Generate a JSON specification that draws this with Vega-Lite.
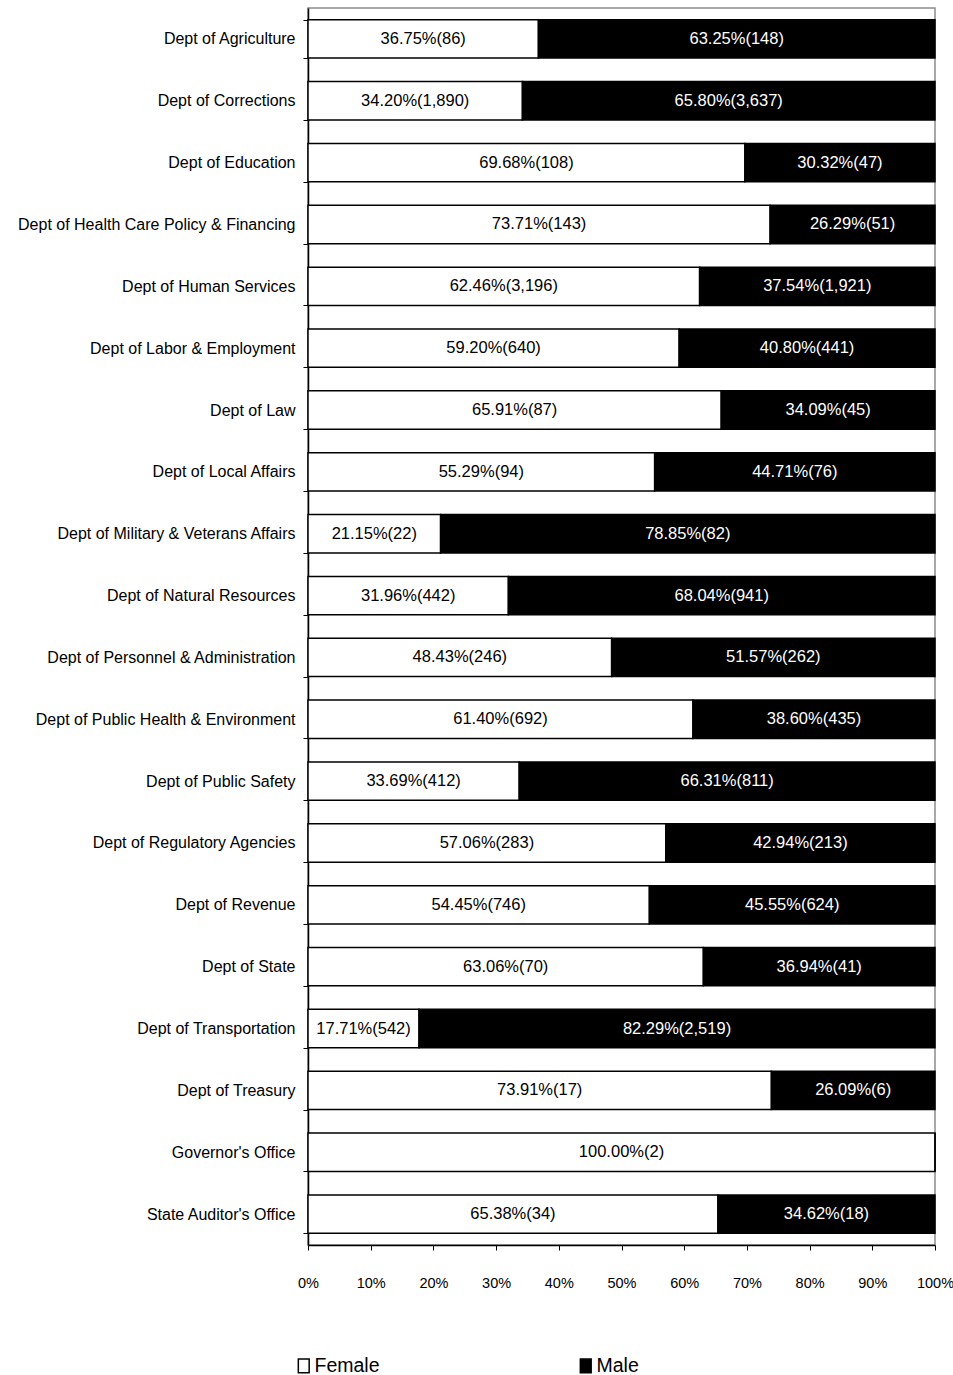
{
  "$schema": "https://vega.github.io/schema/vega-lite/v6.json",
  "width": 627,
  "height": 1237,
  "padding": {"left": 17, "top": 0, "right": 19, "bottom": 0},
  "autosize": {"type": "pad"},
  "background": "white",
  "config": {
    "font": "Liberation Sans",
    "view": {"stroke": "#8c8c8c", "strokeWidth": 1.5}
  },
  "data": {
    "values": [
      {"dept": "Dept of Agriculture", "gender": "Female", "pct": 36.75, "label": "36.75%(86)"},
      {"dept": "Dept of Agriculture", "gender": "Male", "pct": 63.25, "label": "63.25%(148)"},
      {"dept": "Dept of Corrections", "gender": "Female", "pct": 34.20, "label": "34.20%(1,890)"},
      {"dept": "Dept of Corrections", "gender": "Male", "pct": 65.80, "label": "65.80%(3,637)"},
      {"dept": "Dept of Education", "gender": "Female", "pct": 69.68, "label": "69.68%(108)"},
      {"dept": "Dept of Education", "gender": "Male", "pct": 30.32, "label": "30.32%(47)"},
      {"dept": "Dept of Health Care Policy & Financing", "gender": "Female", "pct": 73.71, "label": "73.71%(143)"},
      {"dept": "Dept of Health Care Policy & Financing", "gender": "Male", "pct": 26.29, "label": "26.29%(51)"},
      {"dept": "Dept of Human Services", "gender": "Female", "pct": 62.46, "label": "62.46%(3,196)"},
      {"dept": "Dept of Human Services", "gender": "Male", "pct": 37.54, "label": "37.54%(1,921)"},
      {"dept": "Dept of Labor & Employment", "gender": "Female", "pct": 59.20, "label": "59.20%(640)"},
      {"dept": "Dept of Labor & Employment", "gender": "Male", "pct": 40.80, "label": "40.80%(441)"},
      {"dept": "Dept of Law", "gender": "Female", "pct": 65.91, "label": "65.91%(87)"},
      {"dept": "Dept of Law", "gender": "Male", "pct": 34.09, "label": "34.09%(45)"},
      {"dept": "Dept of Local Affairs", "gender": "Female", "pct": 55.29, "label": "55.29%(94)"},
      {"dept": "Dept of Local Affairs", "gender": "Male", "pct": 44.71, "label": "44.71%(76)"},
      {"dept": "Dept of Military & Veterans Affairs", "gender": "Female", "pct": 21.15, "label": "21.15%(22)"},
      {"dept": "Dept of Military & Veterans Affairs", "gender": "Male", "pct": 78.85, "label": "78.85%(82)"},
      {"dept": "Dept of Natural Resources", "gender": "Female", "pct": 31.96, "label": "31.96%(442)"},
      {"dept": "Dept of Natural Resources", "gender": "Male", "pct": 68.04, "label": "68.04%(941)"},
      {"dept": "Dept of Personnel & Administration", "gender": "Female", "pct": 48.43, "label": "48.43%(246)"},
      {"dept": "Dept of Personnel & Administration", "gender": "Male", "pct": 51.57, "label": "51.57%(262)"},
      {"dept": "Dept of Public Health & Environment", "gender": "Female", "pct": 61.40, "label": "61.40%(692)"},
      {"dept": "Dept of Public Health & Environment", "gender": "Male", "pct": 38.60, "label": "38.60%(435)"},
      {"dept": "Dept of Public Safety", "gender": "Female", "pct": 33.69, "label": "33.69%(412)"},
      {"dept": "Dept of Public Safety", "gender": "Male", "pct": 66.31, "label": "66.31%(811)"},
      {"dept": "Dept of Regulatory Agencies", "gender": "Female", "pct": 57.06, "label": "57.06%(283)"},
      {"dept": "Dept of Regulatory Agencies", "gender": "Male", "pct": 42.94, "label": "42.94%(213)"},
      {"dept": "Dept of Revenue", "gender": "Female", "pct": 54.45, "label": "54.45%(746)"},
      {"dept": "Dept of Revenue", "gender": "Male", "pct": 45.55, "label": "45.55%(624)"},
      {"dept": "Dept of State", "gender": "Female", "pct": 63.06, "label": "63.06%(70)"},
      {"dept": "Dept of State", "gender": "Male", "pct": 36.94, "label": "36.94%(41)"},
      {"dept": "Dept of Transportation", "gender": "Female", "pct": 17.71, "label": "17.71%(542)"},
      {"dept": "Dept of Transportation", "gender": "Male", "pct": 82.29, "label": "82.29%(2,519)"},
      {"dept": "Dept of Treasury", "gender": "Female", "pct": 73.91, "label": "73.91%(17)"},
      {"dept": "Dept of Treasury", "gender": "Male", "pct": 26.09, "label": "26.09%(6)"},
      {"dept": "Governor's Office", "gender": "Female", "pct": 100.00, "label": "100.00%(2)"},
      {"dept": "Governor's Office", "gender": "Male", "pct": 0, "label": ""},
      {"dept": "State Auditor's Office", "gender": "Female", "pct": 65.38, "label": "65.38%(34)"},
      {"dept": "State Auditor's Office", "gender": "Male", "pct": 34.62, "label": "34.62%(18)"}
    ]
  },
  "transform": [
    {"calculate": "datum.gender === 'Female' ? 0 : 1", "as": "ord"},
    {"stack": "pct", "groupby": ["dept"], "sort": [{"field": "ord", "order": "ascending"}], "as": ["x0", "x1"]},
    {"calculate": "(datum.x0 + datum.x1) / 2", "as": "mid"}
  ],
  "encoding": {
    "y": {
      "field": "dept",
      "type": "nominal",
      "sort": null,
      "title": null,
      "scale": {"paddingInner": 0.38, "paddingOuter": 0.19},
      "axis": {
        "labelFontSize": 16,
        "labelColor": "black",
        "labelPadding": 8,
        "labelLimit": 400,
        "tickBand": "extent",
        "tickSize": 5,
        "tickColor": "black",
        "domainColor": "black",
        "domainWidth": 1.5,
        "grid": false
      }
    }
  },
  "layer": [
    {
      "mark": {"type": "bar", "stroke": "black", "strokeWidth": 1.5},
      "encoding": {
        "x": {
          "field": "x0",
          "type": "quantitative",
          "scale": {"domain": [0, 100], "nice": false},
          "title": null,
          "axis": {
            "values": [0, 10, 20, 30, 40, 50, 60, 70, 80, 90, 100],
            "labelExpr": "datum.value + '%'",
            "labelFlush": false,
            "labelFontSize": 14.5,
            "labelColor": "black",
            "labelPadding": 26,
            "tickSize": 5,
            "tickColor": "black",
            "domainColor": "black",
            "domainWidth": 1.5,
            "grid": false
          }
        },
        "x2": {"field": "x1"},
        "fill": {
          "field": "gender",
          "type": "nominal",
          "scale": {"domain": ["Female", "Male"], "range": ["white", "black"]},
          "legend": {
            "title": null,
            "orient": "none",
            "legendX": -14,
            "legendY": 1348,
            "direction": "horizontal",
            "symbolType": "M-0.95,-1.2H0.95V1.2H-0.95Z",
            "symbolSize": 130,
            "symbolStrokeColor": "black",
            "symbolStrokeWidth": 1.5,
            "labelFontSize": 19.5,
            "labelColor": "black",
            "labelOffset": 1,
            "columnPadding": 196
          }
        }
      }
    },
    {
      "mark": {"type": "text", "fontSize": 16.5, "baseline": "middle", "align": "center"},
      "encoding": {
        "x": {"field": "mid", "type": "quantitative"},
        "text": {"field": "label"},
        "color": {
          "field": "gender",
          "type": "nominal",
          "scale": {"domain": ["Female", "Male"], "range": ["black", "white"]},
          "legend": null
        }
      }
    }
  ]
}
